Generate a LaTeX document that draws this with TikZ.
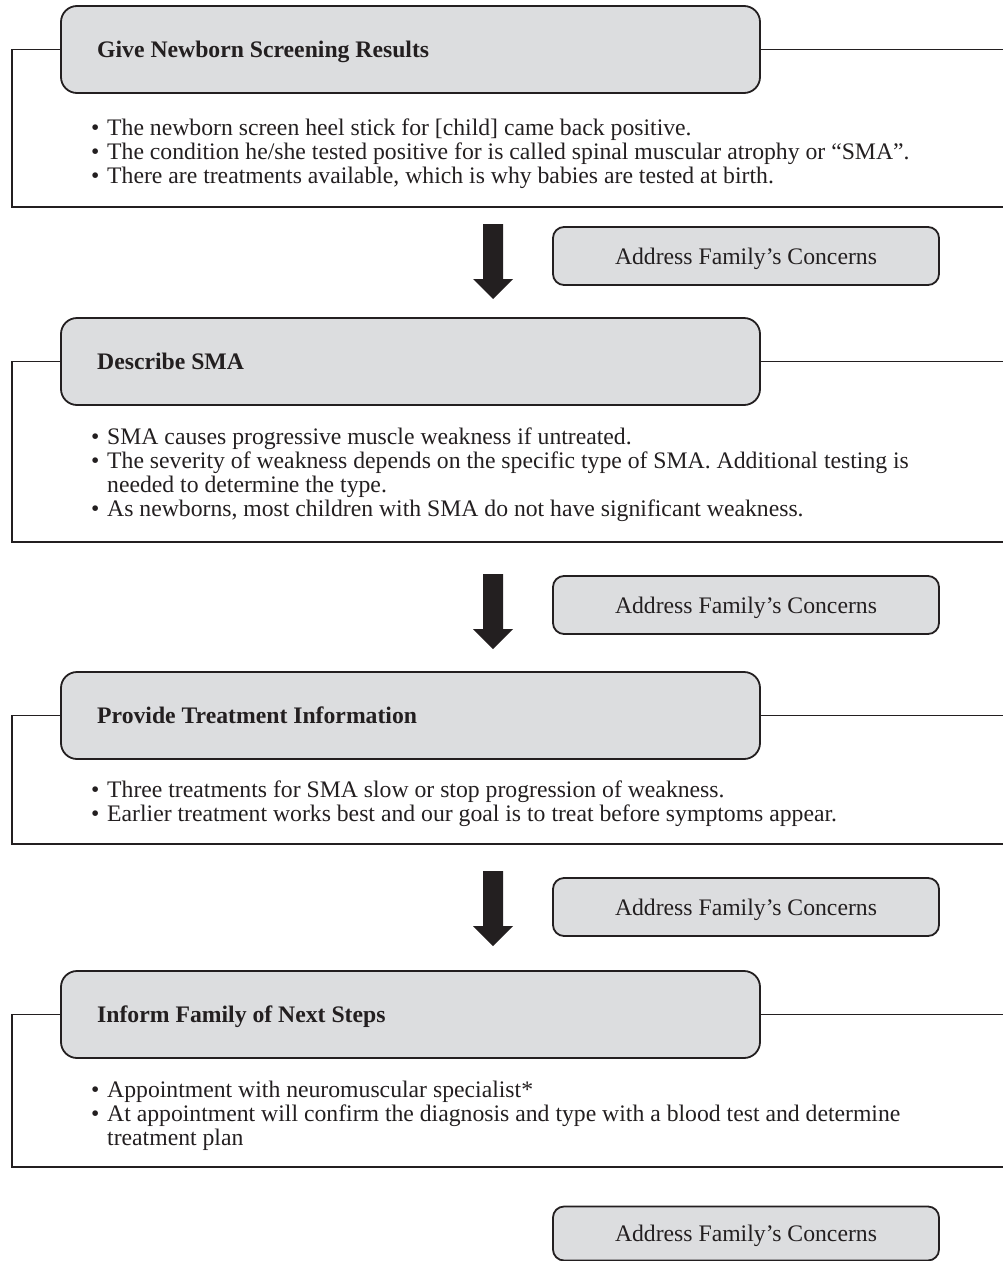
\documentclass[tikz,border=0pt]{standalone}
\usepackage{fontspec}
\setmainfont{Liberation Serif}
\definecolor{boxfill}{HTML}{DCDDDF}
\definecolor{ink}{HTML}{231F20}
\newcommand{\bodyfont}{\fontsize{23.7}{24}\selectfont}
\newcommand{\bpt}{\makebox[16pt][l]{•}}
\newcommand{\blockdown}[1]{%
  \fill[ink] ([xshift=-10pt]#1) -- ([xshift=10pt]#1) -- ([xshift=10pt,yshift=-55pt]#1)
    -- ([xshift=20pt,yshift=-55pt]#1) -- ([yshift=-75pt]#1)
    -- ([xshift=-20pt,yshift=-55pt]#1) -- ([xshift=-10pt,yshift=-55pt]#1) -- cycle;}
\tikzset{
  header/.style={draw=ink, line width=1.8pt, fill=boxfill, rounded corners=16pt,
    minimum width=699pt, minimum height=87pt, inner sep=0pt},
  concern/.style={draw=ink, line width=1.8pt, fill=boxfill, rounded corners=11pt,
    minimum width=386pt, minimum height=58pt, inner sep=0pt, font=\bodyfont, text=ink,
    text depth=0pt},
  frameline/.style={draw=ink, line width=1.3pt},
  titletext/.style={font=\bodyfont\bfseries, anchor=base west, inner sep=0pt, text=ink},
  bullettext/.style={font=\bodyfont, anchor=base west, inner sep=0pt, text=ink},
}
\begin{document}
\begin{tikzpicture}[x=1pt,y=-1pt]
\useasboundingbox (0,0) rectangle (1003,1261);

% ---------- Section 1
\coordinate (f1l) at (12,207);
\coordinate (f1r) at (1003,207);
\coordinate (f1e) at (1003,49.5);
\node[header] (h1) at (410.5,49.5) {};
\draw[frameline] (h1.west) -| (f1l) -- (f1r);
\draw[frameline] (h1.east) -- (f1e);
\node[titletext] (t1) at (97,57.5) {Give Newborn Screening Results};
\node[bullettext] (b11) at (91,135) {\begin{tabular}[t]{@{}l@{}l@{}}\bpt&The newborn screen heel stick for [child] came back positive.\end{tabular}};
\node[bullettext] (b12) at (91,159) {\begin{tabular}[t]{@{}l@{}l@{}}\bpt&The condition he/she tested positive for is called spinal muscular atrophy or “SMA”.\end{tabular}};
\node[bullettext] (b13) at (91,183) {\begin{tabular}[t]{@{}l@{}l@{}}\bpt&There are treatments available, which is why babies are tested at birth.\end{tabular}};

\coordinate (a1) at (493,224);
\blockdown{a1}
\node[concern] (c1) at (746,256) {Address Family’s Concerns};

% ---------- Section 2
\coordinate (f2l) at (12,542);
\coordinate (f2r) at (1003,542);
\coordinate (f2e) at (1003,361.5);
\node[header] (h2) at (410.5,361.5) {};
\draw[frameline] (h2.west) -| (f2l) -- (f2r);
\draw[frameline] (h2.east) -- (f2e);
\node[titletext] (t2) at (97,369.5) {Describe SMA};
\node[bullettext] (b21) at (91,444) {\begin{tabular}[t]{@{}l@{}l@{}}\bpt&SMA causes progressive muscle weakness if untreated.\end{tabular}};
\node[bullettext] (b22) at (91,468) {\begin{tabular}[t]{@{}l@{}l@{}}\bpt&The severity of weakness depends on the specific type of SMA. Additional testing is\\&needed to determine the type.\end{tabular}};
\node[bullettext] (b23) at (91,516) {\begin{tabular}[t]{@{}l@{}l@{}}\bpt&As newborns, most children with SMA do not have significant weakness.\end{tabular}};

\coordinate (a2) at (493,574);
\blockdown{a2}
\node[concern] (c2) at (746,605) {Address Family’s Concerns};

% ---------- Section 3
\coordinate (f3l) at (12,844);
\coordinate (f3r) at (1003,844);
\coordinate (f3e) at (1003,715.5);
\node[header] (h3) at (410.5,715.5) {};
\draw[frameline] (h3.west) -| (f3l) -- (f3r);
\draw[frameline] (h3.east) -- (f3e);
\node[titletext] (t3) at (97,723.5) {Provide Treatment Information};
\node[bullettext] (b31) at (91,797) {\begin{tabular}[t]{@{}l@{}l@{}}\bpt&Three treatments for SMA slow or stop progression of weakness.\end{tabular}};
\node[bullettext] (b32) at (91,821) {\begin{tabular}[t]{@{}l@{}l@{}}\bpt&Earlier treatment works best and our goal is to treat before symptoms appear.\end{tabular}};

\coordinate (a3) at (493,871);
\blockdown{a3}
\node[concern] (c3) at (746,907) {Address Family’s Concerns};

% ---------- Section 4
\coordinate (f4l) at (12,1167);
\coordinate (f4r) at (1003,1167);
\coordinate (f4e) at (1003,1014.5);
\node[header] (h4) at (410.5,1014.5) {};
\draw[frameline] (h4.west) -| (f4l) -- (f4r);
\draw[frameline] (h4.east) -- (f4e);
\node[titletext] (t4) at (97,1022.5) {Inform Family of Next Steps};
\node[bullettext] (b41) at (91,1097) {\begin{tabular}[t]{@{}l@{}l@{}}\bpt&Appointment with neuromuscular specialist*\end{tabular}};
\node[bullettext] (b42) at (91,1121) {\begin{tabular}[t]{@{}l@{}l@{}}\bpt&At appointment will confirm the diagnosis and type with a blood test and determine\\&treatment plan\end{tabular}};

\node[concern, minimum height=54pt] (c4) at (746,1233.5) {Address Family’s Concerns};
\end{tikzpicture}
\end{document}
